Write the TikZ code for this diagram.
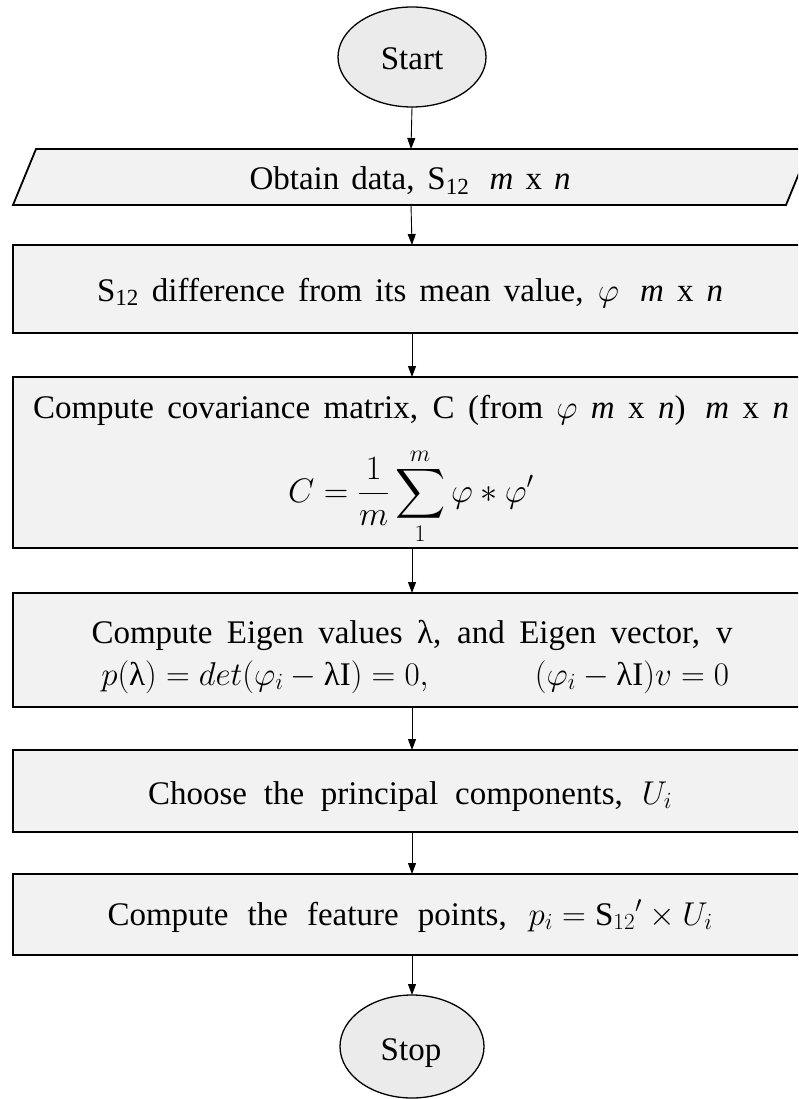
\RequirePackage{fix-cm}
\documentclass[tikz,border=0pt]{standalone}
\usepackage{amsmath}
\usepackage{graphicx}
\usepackage{fontspec}
\setmainfont{Liberation Serif}
\usetikzlibrary{shapes.geometric,arrows.meta}
\definecolor{boxgray}{HTML}{F2F2F2}
\definecolor{termgray}{HTML}{EBEBEB}
\newcommand{\bigsumsym}{\mathop{\vcenter{\hbox{\scalebox{1.4}{$\displaystyle\sum$}}}}\limits}
\begin{document}
\begin{tikzpicture}[x=1pt,y=-1pt,
  every node/.style={font=\fontsize{33}{40}\selectfont},
  box/.style={draw=black, line width=1.8pt, fill=boxgray, minimum width=798pt, inner sep=0pt, outer sep=0pt},
  frame/.style={draw=black, line width=1.8pt, fill=boxgray},
  term/.style={ellipse, draw=black, line width=1.3pt, fill=termgray, inner sep=0pt, outer sep=0pt},
  arr/.style={-{Triangle[length=11pt,width=8pt]}, line width=0.9pt},
  lbl/.style={anchor=base, inner sep=0pt, outer sep=0pt}]
\path[use as bounding box] (0,0) rectangle (798,1099);
\clip (0,0) rectangle (798,1099);

% shapes
\node[term, minimum width=148pt, minimum height=100pt] (start) at (412,57) {};
\node[inner sep=0pt, outer sep=0pt, minimum width=796pt, minimum height=56pt] (para) at (411,177) {};
\draw[frame] (para.south west) -- ([xshift=23pt]para.north west) -- (para.north east) -- ([xshift=-23pt]para.south east) -- cycle;
\node[box, minimum height=88pt] (b2) at (412,289) {};
\node[box, minimum height=171pt] (b3) at (412,462.5) {};
\node[box, minimum height=114pt] (b4) at (412,650) {};
\node[box, minimum height=82pt] (b5) at (412,791) {};
\node[box, minimum height=81pt] (b6) at (412,914.5) {};
\node[term, minimum width=144pt, minimum height=103pt] (stop) at (412,1046.5) {};

% texts
\node[lbl] (tstart) at (412,70) {Start};
\node[lbl] (tpara) at (410,190) {\makebox[321pt][s]{Obtain data, S\textsubscript{12}\hspace{0.25em} \textit{m} x \textit{n}}};
\node[lbl] (tb2) at (410,301) {\makebox[626pt][s]{S\textsubscript{12} difference from its mean value, \mbox{$\varphi$}\hspace{0.25em} \textit{m} x \textit{n}}};
\node[lbl] (tb3a) at (411,418) {\makebox[756pt][s]{Compute covariance matrix, C (from \mbox{$\varphi$} \textit{m} x \textit{n})\hspace{0.2em} \textit{m} x \textit{n}}};
\node[inner sep=0pt, font=\fontsize{34}{42}\selectfont] (tb3b) at (411,496) {$\displaystyle C=\frac{1}{m}\bigsumsym_{1}^{m}\varphi*\varphi'$};
\node[lbl] (tb4a) at (412,643) {\makebox[641pt][s]{Compute Eigen values λ, and Eigen vector, v}};
\node[lbl] (tb4b) at (265,685) {$p(\text{λ}) = det(\varphi_i - \text{λI}) = 0,$};
\node[lbl] (tb4c) at (632,685) {$(\varphi_i - \text{λI})v = 0$};
\node[lbl] (tb5) at (410,804) {\makebox[524pt][s]{Choose the principal components, \mbox{$U_i$}}};
\node[lbl] (tb6) at (410,925) {\makebox[605pt][s]{Compute the feature points, \mbox{$p_i = {\text{S}_{12}}' \times U_i$}}};
\node[lbl] (tstop) at (411,1060) {Stop};

% connectors
\draw[arr] (start.south) -- (para.north);
\draw[arr] (para.south) -- (b2.north);
\draw[arr] (b2.south) -- (b3.north);
\draw[arr] (b3.south) -- (b4.north);
\draw[arr] (b4.south) -- (b5.north);
\draw[arr] (b5.south) -- (b6.north);
\draw[arr] (b6.south) -- (stop.north);
\end{tikzpicture}
\end{document}
